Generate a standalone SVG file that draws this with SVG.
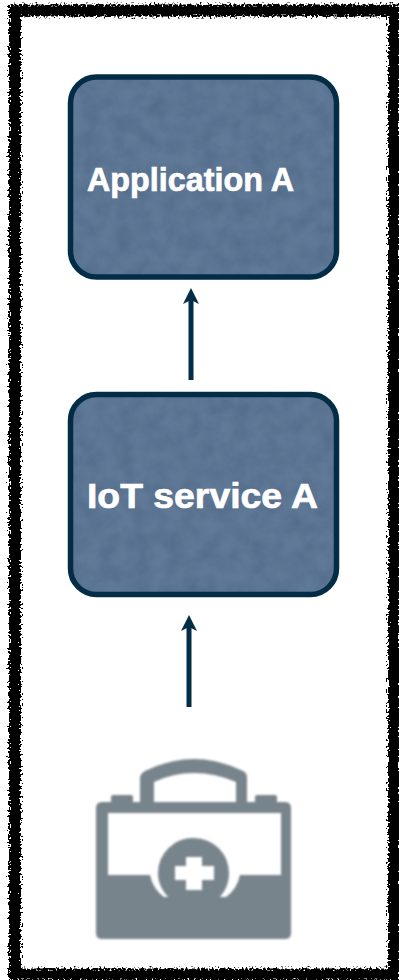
<svg xmlns="http://www.w3.org/2000/svg" width="399" height="980" viewBox="0 0 399 980">
<style>
.box{fill:none;stroke:#032c47;stroke-width:5.500}
.bg{fill:#5f7997}
.lbl{font-family:"Liberation Sans",Arial,sans-serif;font-weight:700;fill:#fff;stroke:#fff;stroke-width:.7}
.cn{stroke:#032c47;stroke-width:5;fill:none;marker-end:url(#ah)}
.ic{fill:#78848c}
</style>
<defs>
<marker id="ah" markerUnits="userSpaceOnUse" markerWidth="16" markerHeight="16" refX="4" refY="8" orient="auto" viewBox="0 0 16 16"><path d="M16 8L0 0L4 8L0 16Z" fill="#032c47"/></marker>
<filter id="rough" filterUnits="userSpaceOnUse" x="0" y="0" width="399" height="980" color-interpolation-filters="sRGB"><feTurbulence type="fractalNoise" baseFrequency="0.5" numOctaves="2" seed="4"/><feDisplacementMap in="SourceGraphic" scale="10" xChannelSelector="R" yChannelSelector="G"/></filter>
<filter id="tex" x="0" y="0" width="100%" height="100%" color-interpolation-filters="sRGB"><feTurbulence type="fractalNoise" baseFrequency="0.06" numOctaves="4" seed="8"/><feColorMatrix values="0 0 0 0 0.27 0 0 0 0 0.36 0 0 0 0 0.48 0.7 0 0 0 -0.2"/><feComposite in2="SourceAlpha" operator="in"/><feComposite in2="SourceGraphic" operator="over"/></filter>
<filter id="ib" filterUnits="userSpaceOnUse" x="80" y="740" width="230" height="220"><feGaussianBlur stdDeviation="1.200"/></filter>
</defs>
<rect width="399" height="980" fill="#fff"/>
<path d="M15 17V10.500H394V974.500H15Z" fill="none" stroke="#000" stroke-width="12" filter="url(#rough)"/>
<g id="connectors">
<path class="cn" d="M191 380V300"/>
<path class="cn" d="M189 707V627"/>
</g>
<g id="application-a">
<rect class="bg" x="70.500" y="77" width="266" height="200" rx="26" filter="url(#tex)"/>
<rect class="box" x="70.500" y="77" width="266" height="200" rx="26"/>
<text class="lbl" x="87" y="191" font-size="33" textLength="207" lengthAdjust="spacingAndGlyphs">Application A</text>
</g>
<g id="iot-service-a">
<rect class="bg" x="70.500" y="394.500" width="266" height="200" rx="26" filter="url(#tex)"/>
<rect class="box" x="70.500" y="394.500" width="266" height="200" rx="26"/>
<text class="lbl" x="87" y="508" font-size="35.500" textLength="231" lengthAdjust="spacingAndGlyphs">IoT service A</text>
</g>
<g id="medical-kit" filter="url(#ib)">
<path class="ic" fill-rule="evenodd" d="M140 802V777Q141 773 145 771Q170 759 194 759Q218 759 243 771Q247 773 247 777V802H236V782Q215 773 194 773Q173 773 154 782V802Z"/>
<rect class="ic" x="111" y="795" width="22" height="12" rx="2"/>
<rect class="ic" x="255" y="795" width="22" height="12" rx="2"/>
<path class="ic" fill-rule="evenodd" d="M102 802H285Q291 802 291 808V933Q291 939 285 939H102Q96 939 96 933V808Q96 802 102 802ZM108 813V875H150Q153 889 164 897H226Q237 889 240 875H281V813Z"/>
<path class="ic" fill-rule="evenodd" d="M194 838A35 35 0 0 1 229 873C229 884 225 892 218 899H170C163 892 158 884 158 873A35 35 0 0 1 194 838ZM186 857V866H175V880H186V890H202V880H214V866H202V857Z"/>
<rect class="ic" x="140" y="897" width="110" height="20"/>
</g>
</svg>
